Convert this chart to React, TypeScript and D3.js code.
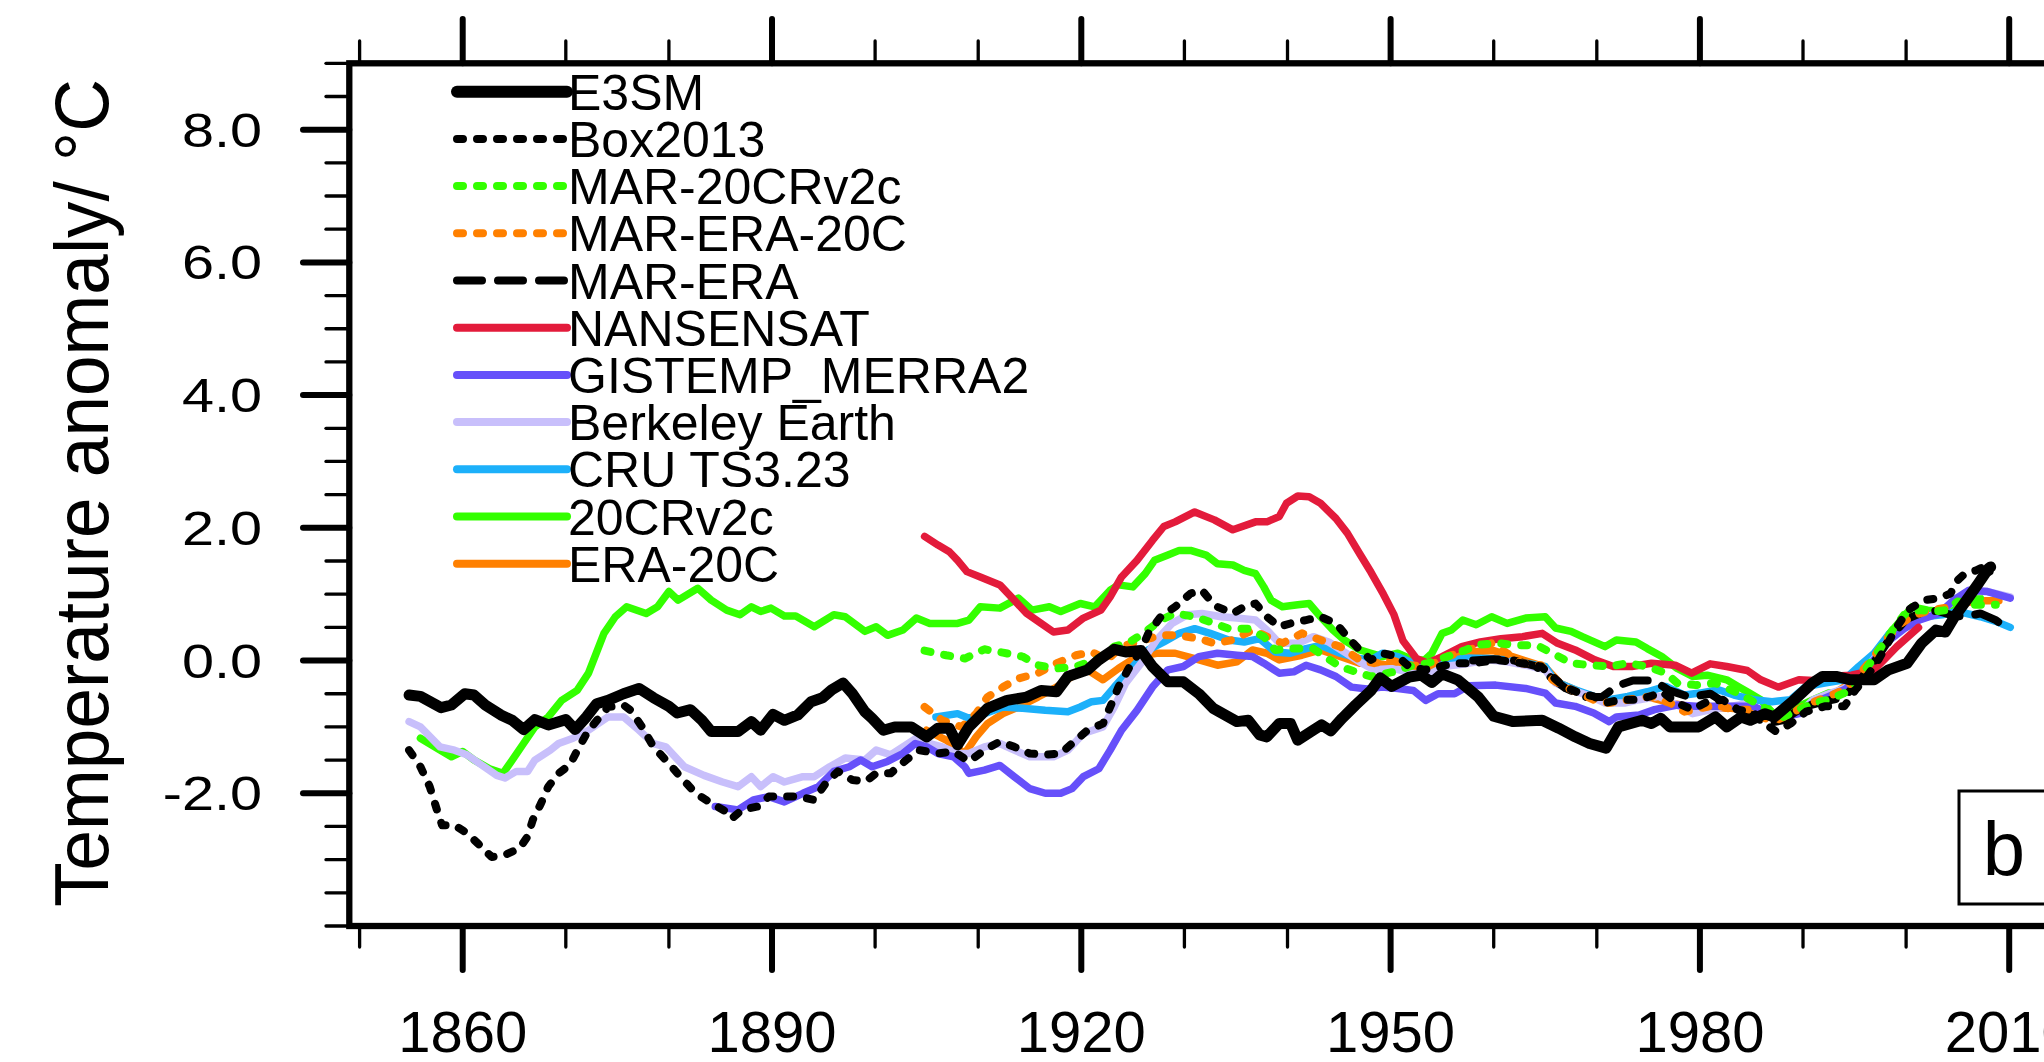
import React from 'react';
import * as d3 from 'd3';

// ---- data: [year, anomaly °C] ----
const e3sm: [number, number][] = [
  [1854.8, -0.52], [1855.9, -0.54], [1857.9, -0.71], [1858.9, -0.67], [1860.2, -0.5], [1861.1, -0.52],
  [1862.2, -0.67], [1863.7, -0.82], [1864.8, -0.9], [1865.9, -1.04], [1867.0, -0.89], [1868.3, -0.97],
  [1870.0, -0.89], [1870.9, -1.04], [1872.0, -0.85], [1873.0, -0.65], [1874.1, -0.6], [1875.6, -0.5],
  [1877.1, -0.42], [1878.5, -0.56], [1880.0, -0.69], [1880.8, -0.79], [1882.1, -0.74], [1883.2, -0.9],
  [1884.1, -1.07], [1886.7, -1.07], [1888.0, -0.92], [1888.9, -1.05], [1890.1, -0.81], [1891.2, -0.9],
  [1892.5, -0.82], [1893.8, -0.62], [1894.9, -0.56], [1895.8, -0.44], [1896.9, -0.34], [1897.8, -0.5],
  [1899.0, -0.77], [1899.7, -0.87], [1900.8, -1.05], [1901.9, -1.0], [1903.5, -1.0], [1905.0, -1.15],
  [1906.1, -1.02], [1907.2, -1.02], [1908.0, -1.27], [1909.1, -1.0], [1910.9, -0.72], [1912.8, -0.6],
  [1914.7, -0.55], [1916.1, -0.45], [1917.6, -0.47], [1918.7, -0.24], [1920.6, -0.14], [1921.7, 0.01],
  [1923.2, 0.17], [1924.3, 0.13], [1925.8, 0.15], [1926.9, -0.09], [1928.4, -0.32], [1929.9, -0.32],
  [1931.4, -0.5], [1932.8, -0.72], [1935.1, -0.92], [1936.2, -0.9], [1937.3, -1.12], [1938.0, -1.15],
  [1939.2, -0.95], [1940.3, -0.95], [1941.0, -1.2], [1942.5, -1.05], [1943.3, -0.97], [1944.2, -1.06],
  [1945.3, -0.87], [1946.6, -0.67], [1948.1, -0.45], [1949.0, -0.26], [1950.1, -0.39], [1951.8, -0.25],
  [1953.0, -0.22], [1954.0, -0.33], [1955.0, -0.2], [1956.5, -0.29], [1958.5, -0.55], [1960.0, -0.84],
  [1961.9, -0.92], [1964.7, -0.9], [1966.3, -1.02], [1967.9, -1.15], [1969.3, -1.25], [1970.9, -1.32],
  [1972.1, -1.0], [1974.4, -0.9], [1975.3, -0.95], [1976.2, -0.87], [1977.1, -1.0], [1979.9, -1.0],
  [1981.5, -0.85], [1982.6, -1.0], [1984.0, -0.85], [1984.9, -0.9], [1986.3, -0.8], [1987.2, -0.85],
  [1989.1, -0.6], [1990.9, -0.34], [1991.9, -0.24], [1993.2, -0.24], [1994.6, -0.29], [1996.9, -0.29],
  [1998.3, -0.14], [2000.1, -0.04], [2001.5, 0.26], [2002.9, 0.46], [2003.8, 0.43], [2004.7, 0.66],
  [2006.1, 0.96], [2007.0, 1.16], [2008.0, 1.39], [2008.2, 1.41],
];

const box2013: [number, number][] = [
  [1854.8, -1.35], [1855.9, -1.6], [1856.8, -1.9], [1857.6, -2.3], [1858.0, -2.48], [1859.2, -2.48],
  [1860.4, -2.6], [1861.5, -2.76], [1862.8, -2.96], [1864.1, -2.93], [1865.5, -2.83], [1866.3, -2.65],
  [1866.8, -2.4], [1867.6, -2.15], [1868.3, -1.9], [1869.3, -1.7], [1870.4, -1.57], [1871.3, -1.3],
  [1872.2, -1.05], [1873.3, -0.85], [1874.1, -0.7], [1875.6, -0.67], [1876.3, -0.75], [1877.4, -1.0],
  [1878.5, -1.3], [1880.0, -1.55], [1881.1, -1.75], [1882.6, -2.0], [1884.1, -2.15], [1885.6, -2.28],
  [1886.1, -2.38], [1887.1, -2.25], [1888.6, -2.2], [1889.7, -2.05], [1891.2, -2.05], [1892.6, -2.05],
  [1894.1, -2.1], [1895.2, -1.85], [1896.4, -1.67], [1897.8, -1.8], [1899.1, -1.82], [1900.1, -1.7],
  [1901.5, -1.7], [1903.0, -1.5], [1904.3, -1.35], [1906.1, -1.4], [1907.6, -1.37], [1909.1, -1.52],
  [1910.6, -1.35], [1912.1, -1.22], [1913.5, -1.3], [1915.0, -1.4], [1916.5, -1.42], [1918.0, -1.4],
  [1919.1, -1.25], [1920.6, -1.05], [1922.1, -0.95], [1922.8, -0.7], [1923.6, -0.4], [1924.7, -0.09],
  [1925.8, 0.16], [1926.5, 0.41], [1927.7, 0.66], [1929.1, 0.81], [1930.6, 1.01], [1931.7, 1.06],
  [1932.5, 0.91], [1933.2, 0.81], [1934.7, 0.71], [1935.8, 0.81], [1936.9, 0.86], [1938.0, 0.66],
  [1939.2, 0.51], [1940.3, 0.56], [1941.8, 0.61], [1943.2, 0.66], [1944.7, 0.56], [1945.8, 0.36],
  [1947.0, 0.16], [1948.1, 0.01], [1949.2, 0.11], [1950.7, 0.06], [1951.8, -0.09], [1953.3, -0.14],
  [1954.8, -0.09], [1956.2, -0.04], [1958.1, -0.04], [1960.3, 0.01], [1962.7, -0.04], [1964.6, -0.09],
  [1965.7, -0.24], [1966.8, -0.39], [1968.3, -0.49], [1969.7, -0.54], [1970.8, -0.64], [1972.3, -0.59],
  [1973.8, -0.59], [1975.2, -0.54], [1976.3, -0.47], [1977.8, -0.64], [1979.3, -0.74], [1980.7, -0.62],
  [1982.2, -0.59], [1983.7, -0.74], [1985.2, -0.79], [1986.3, -0.95], [1987.4, -1.07], [1988.8, -0.95],
  [1990.3, -0.77], [1992.1, -0.69], [1994.0, -0.69], [1995.1, -0.44], [1996.2, -0.24], [1997.3, 0.01],
  [1998.4, 0.31], [1999.1, 0.51], [2000.2, 0.76], [2001.7, 0.91], [2003.2, 0.94], [2004.3, 1.01],
  [2005.0, 1.21], [2005.7, 1.31], [2006.8, 1.36], [2007.9, 1.44], [2008.1, 1.34],
];

const mar20crv2c: [number, number][] = [
  [1904.8, 0.15], [1906.9, 0.08], [1908.7, 0.03], [1910.6, 0.17], [1912.4, 0.12], [1914.3, 0.06],
  [1915.8, -0.07], [1917.6, -0.12], [1919.5, -0.09], [1921.7, 0.03], [1923.2, 0.21], [1924.7, 0.28],
  [1926.2, 0.43], [1927.7, 0.61], [1929.1, 0.71], [1931.0, 0.66], [1932.9, 0.56], [1934.3, 0.48],
  [1936.2, 0.48], [1937.7, 0.36], [1938.8, 0.16], [1940.3, 0.18], [1942.5, 0.18], [1943.6, 0.06],
  [1945.1, -0.09], [1947.0, -0.19], [1948.1, -0.24], [1950.3, -0.17], [1952.2, -0.07], [1953.6, -0.04],
  [1955.5, 0.06], [1957.3, 0.16], [1958.5, 0.24], [1960.5, 0.26], [1962.4, 0.23], [1964.2, 0.23],
  [1965.7, 0.11], [1967.5, -0.04], [1969.4, -0.07], [1971.2, -0.09], [1973.0, -0.04], [1974.9, -0.09],
  [1976.7, -0.19], [1977.8, -0.34], [1979.6, -0.37], [1981.5, -0.34], [1983.7, -0.49], [1985.2, -0.62],
  [1986.6, -0.74], [1988.1, -0.85], [1989.6, -0.74], [1991.0, -0.64], [1992.5, -0.59], [1994.0, -0.49],
  [1995.4, -0.29], [1996.5, -0.04], [1997.6, 0.21], [1998.7, 0.46], [1999.8, 0.69], [2001.3, 0.76],
  [2002.8, 0.74], [2003.9, 0.76], [2005.0, 0.89], [2006.5, 0.84], [2008.7, 0.84],
];

const marEra20c: [number, number][] = [
  [1904.8, -0.7], [1906.5, -0.9], [1908.4, -1.0], [1909.8, -0.8], [1910.9, -0.55], [1912.4, -0.4],
  [1913.9, -0.27], [1915.8, -0.19], [1917.6, -0.04], [1919.5, 0.08], [1921.0, 0.13], [1922.5, 0.01],
  [1923.9, 0.21], [1925.4, 0.28], [1927.7, 0.38], [1929.5, 0.38], [1931.4, 0.33], [1932.9, 0.26],
  [1934.7, 0.31], [1936.6, 0.46], [1938.0, 0.36], [1939.5, 0.26], [1941.4, 0.41], [1943.2, 0.31],
  [1945.1, 0.21], [1947.0, 0.01], [1948.4, -0.04], [1949.9, 0.01], [1951.8, -0.07], [1953.6, -0.09],
  [1955.5, 0.06], [1957.7, 0.17], [1959.8, 0.26], [1961.3, 0.11], [1962.7, -0.04], [1964.6, -0.07],
  [1965.7, -0.29], [1966.8, -0.39], [1968.3, -0.49], [1969.7, -0.59], [1971.2, -0.64], [1973.0, -0.59],
  [1975.2, -0.54], [1977.1, -0.64], [1978.5, -0.77], [1980.0, -0.72], [1981.5, -0.67], [1983.3, -0.74],
  [1984.8, -0.74], [1986.3, -0.87], [1987.4, -0.9], [1988.8, -0.8], [1990.7, -0.64], [1992.5, -0.54],
  [1994.0, -0.44], [1995.4, -0.22], [1996.9, 0.06], [1998.0, 0.31], [1999.5, 0.56], [2000.9, 0.69],
  [2002.4, 0.76], [2004.0, 0.8],
];

const marEra: [number, number][] = [
  [1958.0, 0.0], [1960.0, 0.02], [1962.0, 0.0], [1964.0, -0.08], [1965.5, -0.25], [1967.0, -0.42],
  [1969.0, -0.55], [1970.5, -0.55], [1972.0, -0.38], [1973.5, -0.3], [1975.5, -0.3], [1977.0, -0.45],
  [1979.0, -0.55], [1981.0, -0.5], [1983.0, -0.7], [1985.0, -0.82], [1986.5, -0.95], [1988.0, -0.9],
  [1990.0, -0.7], [1992.0, -0.62], [1994.0, -0.55], [1995.5, -0.3], [1997.0, 0.0], [1998.5, 0.35],
  [2000.0, 0.62], [2001.5, 0.72], [2003.0, 0.75], [2004.5, 0.68], [2005.7, 0.66], [2007.2, 0.71],
  [2008.7, 0.61], [2010.1, 0.44],
];

const nansensat: [number, number][] = [
  [1904.8, 1.87], [1906.1, 1.74], [1907.2, 1.64], [1908.0, 1.51], [1908.9, 1.34], [1910.2, 1.26],
  [1912.1, 1.14], [1913.2, 0.96], [1914.7, 0.71], [1916.1, 0.56], [1917.3, 0.43], [1918.7, 0.46],
  [1920.2, 0.64], [1921.9, 0.76], [1922.8, 0.96], [1923.9, 1.26], [1925.4, 1.51], [1926.9, 1.81],
  [1928.0, 2.02], [1929.1, 2.09], [1931.0, 2.24], [1932.9, 2.12], [1934.7, 1.97], [1936.9, 2.09],
  [1938.0, 2.09], [1939.2, 2.17], [1939.9, 2.37], [1941.0, 2.48], [1942.1, 2.47], [1943.2, 2.37],
  [1944.7, 2.14], [1945.8, 1.92], [1947.0, 1.61], [1948.1, 1.33], [1949.3, 1.0], [1950.3, 0.7],
  [1951.2, 0.3], [1952.5, 0.03], [1953.6, -0.04], [1955.0, 0.06], [1956.9, 0.21], [1958.7, 0.28],
  [1960.7, 0.33], [1962.8, 0.36], [1964.7, 0.41], [1966.2, 0.26], [1967.9, 0.16], [1969.8, 0.01],
  [1971.6, -0.09], [1973.4, -0.09], [1975.3, -0.04], [1977.6, -0.07], [1979.2, -0.19], [1981.0, -0.05],
  [1982.6, -0.09], [1984.6, -0.15], [1985.9, -0.29], [1987.6, -0.4], [1989.6, -0.29], [1991.0, -0.3],
  [1992.3, -0.24], [1994.7, -0.22], [1996.9, -0.14], [1999.1, 0.21], [2001.2, 0.5],
];

const gistemp: [number, number][] = [
  [1884.5, -2.2], [1886.7, -2.25], [1888.2, -2.1], [1889.7, -2.05], [1891.2, -2.13], [1893.0, -2.0],
  [1894.5, -1.9], [1896.0, -1.67], [1897.5, -1.6], [1898.6, -1.5], [1899.7, -1.6], [1901.2, -1.52],
  [1902.7, -1.4], [1903.9, -1.25], [1905.0, -1.3], [1906.1, -1.4], [1907.6, -1.45], [1908.7, -1.6],
  [1909.1, -1.7], [1910.6, -1.65], [1912.1, -1.58], [1913.5, -1.75], [1915.0, -1.93], [1916.5, -2.0],
  [1918.0, -2.0], [1919.1, -1.93], [1920.2, -1.75], [1921.7, -1.63], [1922.8, -1.35], [1923.9, -1.05],
  [1925.4, -0.75], [1926.9, -0.4], [1928.4, -0.14], [1929.9, -0.09], [1931.4, 0.06], [1933.2, 0.11],
  [1935.1, 0.08], [1936.6, 0.06], [1937.7, -0.04], [1939.2, -0.19], [1940.6, -0.17], [1941.8, -0.07],
  [1943.2, -0.14], [1944.7, -0.24], [1946.2, -0.4], [1947.7, -0.43], [1949.2, -0.4], [1950.7, -0.42],
  [1952.2, -0.45], [1953.4, -0.6], [1954.6, -0.5], [1956.2, -0.5], [1957.6, -0.38], [1960.2, -0.37],
  [1963.1, -0.42], [1965.0, -0.49], [1966.0, -0.64], [1967.9, -0.69], [1969.7, -0.79], [1971.2, -0.92],
  [1971.9, -0.85], [1974.1, -0.82], [1975.6, -0.74], [1977.8, -0.67], [1979.6, -0.69], [1981.5, -0.69],
  [1983.3, -0.69], [1985.2, -0.69], [1986.6, -0.79], [1988.1, -0.85], [1989.6, -0.8], [1991.0, -0.64],
  [1992.5, -0.54], [1994.0, -0.44], [1995.4, -0.29], [1996.9, 0.01], [1998.4, 0.31], [1999.8, 0.48],
  [2001.3, 0.61], [2003.2, 0.71], [2004.6, 0.91], [2006.1, 1.06], [2007.9, 1.04], [2010.1, 0.94],
];

const berkeley: [number, number][] = [
  [1854.8, -0.92], [1855.9, -1.0], [1857.8, -1.3], [1859.2, -1.35], [1860.4, -1.42], [1861.8, -1.57],
  [1863.3, -1.73], [1864.1, -1.77], [1865.2, -1.67], [1866.3, -1.67], [1867.0, -1.5], [1868.5, -1.35],
  [1869.3, -1.25], [1870.7, -1.17], [1872.2, -1.05], [1874.1, -0.85], [1875.6, -0.85], [1877.1, -1.05],
  [1878.5, -1.25], [1879.7, -1.3], [1881.5, -1.6], [1883.4, -1.73], [1885.2, -1.83], [1886.7, -1.9],
  [1888.0, -1.75], [1888.9, -1.9], [1890.1, -1.75], [1891.2, -1.83], [1893.0, -1.75], [1894.1, -1.75],
  [1895.6, -1.6], [1897.1, -1.47], [1899.0, -1.5], [1900.1, -1.35], [1901.5, -1.42], [1902.7, -1.3],
  [1904.0, -1.17], [1905.3, -1.25], [1906.5, -1.3], [1908.0, -1.4], [1909.1, -1.4], [1910.6, -1.3],
  [1912.1, -1.25], [1913.5, -1.35], [1915.0, -1.45], [1917.3, -1.45], [1918.7, -1.35], [1920.2, -1.1],
  [1922.1, -1.0], [1923.2, -0.7], [1924.3, -0.34], [1925.8, -0.04], [1927.3, 0.31], [1928.8, 0.56],
  [1930.3, 0.69], [1931.7, 0.71], [1933.6, 0.66], [1935.1, 0.64], [1936.9, 0.61], [1938.0, 0.46],
  [1939.2, 0.26], [1941.0, 0.26], [1942.5, 0.36], [1944.0, 0.28], [1945.5, 0.13], [1947.0, -0.02],
  [1948.4, -0.14], [1950.3, -0.12], [1952.2, -0.19], [1953.6, -0.19], [1955.1, -0.09], [1957.3, -0.05],
  [1959.4, 0.01], [1961.3, -0.02], [1963.1, -0.07], [1965.0, -0.14], [1966.0, -0.34], [1967.5, -0.44],
  [1969.4, -0.54], [1970.8, -0.64], [1972.7, -0.64], [1974.1, -0.59], [1976.0, -0.54], [1977.8, -0.67],
  [1979.3, -0.8], [1981.1, -0.74], [1983.0, -0.69], [1984.8, -0.64], [1986.3, -0.8], [1987.7, -0.85],
  [1989.6, -0.8], [1991.0, -0.59], [1992.5, -0.5], [1994.0, -0.42], [1995.4, -0.27], [1996.9, 0.03],
  [1998.4, 0.33], [1999.8, 0.5], [2001.3, 0.62], [2003.2, 0.72], [2004.6, 0.9], [2006.1, 1.04],
  [2007.9, 1.04], [2010.1, 0.96],
];

const cru: [number, number][] = [
  [1905.9, -0.85], [1908.0, -0.8], [1909.1, -0.87], [1910.6, -0.8], [1912.4, -0.7], [1914.3, -0.72],
  [1916.5, -0.75], [1918.7, -0.77], [1919.9, -0.7], [1921.0, -0.62], [1922.1, -0.6], [1923.2, -0.4],
  [1924.7, -0.14], [1926.5, 0.16], [1928.0, 0.28], [1929.5, 0.41], [1931.0, 0.48], [1932.5, 0.41],
  [1934.3, 0.31], [1935.8, 0.28], [1937.3, 0.33], [1938.8, 0.13], [1940.3, 0.11], [1941.8, 0.18],
  [1943.2, 0.23], [1945.1, 0.11], [1947.0, 0.03], [1948.1, 0.01], [1949.2, 0.11], [1950.7, 0.06],
  [1952.2, -0.04], [1953.6, -0.12], [1955.1, -0.02], [1957.3, 0.04], [1959.4, 0.03], [1961.3, 0.01],
  [1963.1, -0.04], [1965.0, -0.09], [1966.0, -0.32], [1967.9, -0.44], [1969.7, -0.54], [1971.2, -0.59],
  [1973.0, -0.54], [1974.9, -0.47], [1976.7, -0.39], [1978.5, -0.52], [1980.0, -0.49], [1981.8, -0.44],
  [1983.3, -0.52], [1985.2, -0.59], [1987.0, -0.62], [1988.8, -0.59], [1990.3, -0.39], [1992.1, -0.34],
  [1994.0, -0.29], [1995.4, -0.09], [1996.9, 0.11], [1998.4, 0.41], [1999.8, 0.54], [2001.7, 0.66],
  [2003.5, 0.69], [2005.0, 0.74], [2007.2, 0.66], [2008.7, 0.59], [2010.1, 0.5],
];

const cr20v2c: [number, number][] = [
  [1855.9, -1.17], [1857.8, -1.35], [1858.9, -1.45], [1860.0, -1.37], [1861.1, -1.5], [1862.6, -1.63],
  [1863.9, -1.7], [1864.8, -1.5], [1865.9, -1.25], [1867.0, -1.0], [1868.3, -0.85], [1869.6, -0.6],
  [1871.1, -0.45], [1872.2, -0.19], [1873.7, 0.41], [1874.8, 0.66], [1875.9, 0.81], [1877.8, 0.71],
  [1878.9, 0.81], [1880.0, 1.04], [1880.9, 0.91], [1882.8, 1.09], [1884.1, 0.91], [1885.6, 0.76],
  [1886.9, 0.69], [1888.0, 0.81], [1888.9, 0.74], [1889.9, 0.79], [1891.2, 0.67], [1892.3, 0.67],
  [1894.1, 0.51], [1896.0, 0.69], [1897.1, 0.66], [1899.0, 0.44], [1900.1, 0.51], [1901.2, 0.38],
  [1902.7, 0.46], [1904.0, 0.64], [1905.3, 0.56], [1908.0, 0.56], [1909.1, 0.61], [1910.2, 0.81],
  [1912.1, 0.79], [1913.9, 0.94], [1915.2, 0.76], [1916.9, 0.81], [1918.0, 0.74], [1919.9, 0.86],
  [1921.3, 0.81], [1922.8, 1.06], [1923.6, 1.14], [1925.0, 1.11], [1926.2, 1.31], [1927.1, 1.51],
  [1928.4, 1.59], [1929.5, 1.66], [1930.6, 1.66], [1932.1, 1.59], [1933.2, 1.46], [1934.7, 1.44],
  [1935.8, 1.36], [1936.9, 1.31], [1937.7, 1.11], [1938.4, 0.91], [1939.5, 0.81], [1941.0, 0.84],
  [1942.1, 0.86], [1943.2, 0.66], [1944.4, 0.46], [1945.5, 0.31], [1947.0, 0.16], [1948.1, 0.11],
  [1949.2, 0.06], [1950.7, 0.11], [1952.2, 0.01], [1953.3, 0.01], [1954.0, 0.11], [1955.0, 0.41],
  [1955.9, 0.46], [1957.0, 0.61], [1958.3, 0.54], [1959.8, 0.66], [1961.3, 0.56], [1963.1, 0.64],
  [1965.0, 0.66], [1966.0, 0.49], [1967.5, 0.44], [1968.6, 0.36], [1970.8, 0.21], [1971.9, 0.31],
  [1973.8, 0.28], [1974.9, 0.18], [1976.3, 0.06], [1977.8, -0.12], [1979.3, -0.24], [1980.7, -0.22],
  [1982.6, -0.29], [1983.7, -0.39], [1984.8, -0.49], [1985.9, -0.59], [1987.4, -0.85], [1988.5, -0.8],
  [1989.6, -0.69], [1991.0, -0.59], [1992.5, -0.49], [1994.0, -0.49], [1995.1, -0.39], [1996.2, -0.19],
  [1997.3, 0.11], [1998.4, 0.41], [1999.5, 0.61], [2000.6, 0.81], [2002.1, 0.76], [2003.5, 0.74],
  [2004.6, 0.81], [2005.7, 0.91], [2007.2, 0.94],
];

const era20c: [number, number][] = [
  [1905.0, -1.05], [1906.9, -1.2], [1908.7, -1.4], [1909.8, -1.15], [1910.9, -0.95], [1912.4, -0.8],
  [1913.9, -0.7], [1915.8, -0.55], [1917.6, -0.4], [1919.1, -0.24], [1920.6, -0.14], [1922.1, -0.29],
  [1923.6, -0.12], [1925.4, 0.06], [1927.3, 0.11], [1929.1, 0.11], [1931.0, 0.03], [1933.2, -0.07],
  [1935.1, -0.02], [1936.6, 0.16], [1938.0, 0.11], [1939.2, 0.01], [1941.4, 0.08], [1943.2, 0.16],
  [1945.1, 0.06], [1947.0, -0.04], [1949.0, -0.05], [1951.0, -0.1], [1953.0, -0.12], [1955.0, 0.05],
  [1957.0, 0.12], [1960.0, 0.15], [1963.0, 0.0], [1965.0, -0.1], [1966.5, -0.35], [1968.0, -0.45],
  [1970.0, -0.58], [1972.0, -0.6], [1975.0, -0.55], [1977.5, -0.65], [1980.0, -0.72], [1983.0, -0.72],
  [1985.0, -0.75], [1987.0, -0.85], [1989.0, -0.75], [1991.0, -0.6], [1993.0, -0.5], [1995.0, -0.3],
  [1997.0, 0.05], [1999.0, 0.45], [2001.0, 0.65], [2003.0, 0.75], [2005.0, 0.85], [2007.0, 0.9],
  [2009.0, 0.9],
];

const seriesNames = [
  'E3SM', 'Box2013', 'MAR-20CRv2c', 'MAR-ERA-20C', 'MAR-ERA', 'NANSENSAT',
  'GISTEMP_MERRA2', 'Berkeley Earth', 'CRU TS3.23', '20CRv2c', 'ERA-20C',
];
const seriesData = [e3sm, box2013, mar20crv2c, marEra20c, marEra, nansensat, gistemp, berkeley, cru, cr20v2c, era20c];

const xMajorTicks = [1860, 1890, 1920, 1950, 1980, 2010];
const xMinorTicks = [1850, 1870, 1880, 1900, 1910, 1930, 1940, 1960, 1970, 1990, 2000];
const yMajorTicks = [-2, 0, 2, 4, 6, 8];
const yMinorTicks = [-4, -3.5, -3, -2.5, -1.5, -1, -0.5, 0.5, 1, 1.5, 2.5, 3, 3.5, 4.5, 5, 5.5, 6.5, 7, 7.5, 8.5, 9];

// styles, in legend order
const styles = [
  { color: '#000000', width: 11, dash: null },
  { color: '#000000', width: 8, dash: '6 14' },
  { color: '#33ff00', width: 8, dash: '6 14' },
  { color: '#ff8000', width: 8, dash: '6 14' },
  { color: '#000000', width: 8, dash: '25 16' },
  { color: '#e31b3b', width: 7.5, dash: null },
  { color: '#6650fa', width: 7.5, dash: null },
  { color: '#c8bffb', width: 7.5, dash: null },
  { color: '#1cb0fa', width: 7.5, dash: null },
  { color: '#33ff00', width: 7.5, dash: null },
  { color: '#ff8000', width: 7.5, dash: null },
];

const FONT = 'Liberation Sans, Arial, Helvetica, sans-serif';
const W = 2044;
const H = 1062;

const left = 349.3;
const top = 63.3;
const bottom = 926;
const pxPerYear = 10.31;

export default function App() {
  const x = d3.scaleLinear().domain([1849, 2019]).range([left, left + 170 * pxPerYear]);
  const y = d3.scaleLinear().domain([-4, 9]).range([bottom, top]);
  const line = d3.line<[number, number]>().x(d => x(d[0])).y(d => y(d[1]));

  const legendY0 = 91.7;
  const legendStep = 47.2;
  // last legend entry drawn first, so E3SM ends up on top
  const order = d3.range(seriesData.length).reverse();

  return (
    <svg width={W} height={H} style={{ position: 'absolute', left: 0, top: 0, background: '#fff' }}>
      <rect x={0} y={0} width={W} height={H} fill="#fff" />

      <g fill="none" strokeLinejoin="round">
        {order.map(i => (
          <path key={seriesNames[i]} d={line(seriesData[i]) ?? ''}
            stroke={styles[i].color} strokeWidth={styles[i].width}
            strokeDasharray={styles[i].dash ?? undefined}
            strokeLinecap="round" />
        ))}
      </g>

      {/* legend */}
      <g>
        {seriesNames.map((name, i) => {
          const ly = legendY0 + i * legendStep;
          return (
            <g key={name}>
              <line x1={457} x2={567} y1={ly} y2={ly} stroke={styles[i].color}
                strokeWidth={i === 0 ? 12 : 8} strokeLinecap="round"
                strokeDasharray={styles[i].dash ?? undefined} />
              <text x={568} y={ly + 18} fontFamily={FONT} fontSize={50}>{name}</text>
            </g>
          );
        })}
      </g>

      {/* frame */}
      <rect x={left} y={top} width={W} height={bottom - top} fill="none" stroke="#000" strokeWidth={6.3} />

      {/* y ticks */}
      <g stroke="#000" strokeLinecap="round">
        {yMajorTicks.map(v => <line key={'ym' + v} x1={303} x2={left} y1={y(v)} y2={y(v)} strokeWidth={6} />)}
        {yMinorTicks.map(v => <line key={'yn' + v} x1={326} x2={left} y1={y(v)} y2={y(v)} strokeWidth={3.3} />)}
      </g>
      {yMajorTicks.map(v => (
        <text key={'yl' + v} transform={`translate(262,${y(v) + 17}) scale(1.2,1)`}
          textAnchor="end" fontFamily={FONT} fontSize={48}>{v.toFixed(1)}</text>
      ))}

      {/* x ticks, bottom and top */}
      <g stroke="#000" strokeLinecap="round">
        {xMajorTicks.map(v => <line key={'xb' + v} x1={x(v)} x2={x(v)} y1={bottom} y2={970} strokeWidth={6} />)}
        {xMinorTicks.map(v => <line key={'xbn' + v} x1={x(v)} x2={x(v)} y1={bottom} y2={947} strokeWidth={3.3} />)}
        {xMajorTicks.map(v => <line key={'xt' + v} x1={x(v)} x2={x(v)} y1={top} y2={19} strokeWidth={6} />)}
        {xMinorTicks.map(v => <line key={'xtn' + v} x1={x(v)} x2={x(v)} y1={top} y2={41} strokeWidth={3.3} />)}
      </g>
      {xMajorTicks.map(v => (
        <text key={'xl' + v} x={x(v)} y={1052} textAnchor="middle" fontFamily={FONT} fontSize={58}>{v}</text>
      ))}

      <text transform="translate(108,493) rotate(-90) scale(0.96,1)" textAnchor="middle"
        fontFamily={FONT} fontSize={76}>Temperature anomaly/ °C</text>

      {/* panel label */}
      <rect x={1959} y={791} width={90} height={113} fill="#fff" stroke="#000" strokeWidth={3} />
      <text x={2004} y={875} textAnchor="middle" fontFamily={FONT} fontSize={76}>b</text>
    </svg>
  );
}
